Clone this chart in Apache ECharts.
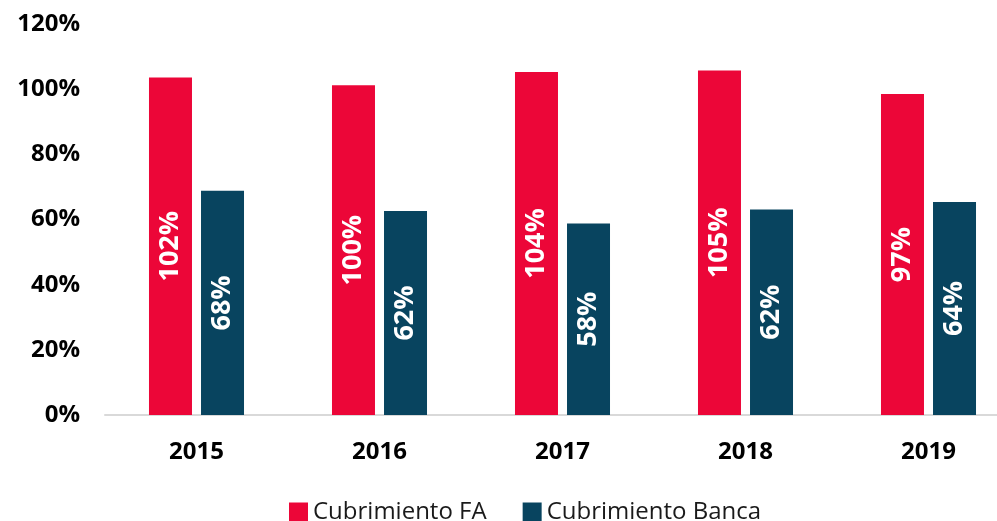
<!DOCTYPE html>
<html>
<head>
<meta charset="utf-8">
<script src="https://cdn.jsdelivr.net/npm/echarts@6/dist/echarts.min.js"></script>
<style>
  html, body { margin: 0; padding: 0; background: #fff; }
  #chart { width: 997px; height: 521px; }
</style>
</head>
<body>
<div id="chart"></div>
<script>
var years = ['2015', '2016', '2017', '2018', '2019'];
// bar heights
var fa = [103.6, 101.2, 105.3, 105.7, 98.5];
var banca = [68.8, 62.6, 58.8, 63.1, 65.4];
// labels as printed on the bars
var faLabels = ['102%', '100%', '104%', '105%', '97%'];
var bancaLabels = ['68%', '62%', '58%', '62%', '64%'];

var font = 'Open Sans';

function barLabel(texts){
	return {
		show : true,
		position : 'inside',
		rotate : 90,
		color : '#fff',
		fontFamily : font,
		fontWeight : 'bold',
		fontSize : 27,
		formatter : function(p){ return texts[p.dataIndex]; }
	};
}

var option = {
	animation : false,
	grid : { left: 105, top: 24, width: 915, height: 391, outerBoundsMode: 'none', containLabel: false },
	legend : {
		top : 495,
		left : 284,
		itemWidth : 19,
		itemHeight : 19,
		itemGap : 36,
		icon : 'rect',
		textStyle : { fontFamily: font, fontSize: 24, color: '#1a1a1a' },
		data : ['Cubrimiento FA', 'Cubrimiento Banca']
	},
	xAxis : {
		type : 'category',
		data : years,
		axisLine : { lineStyle: { color: '#d9d9d9', width: 2 } },
		axisTick : { show: false },
		axisLabel : { margin: 25, color: '#000', fontFamily: font, fontWeight: 'bold', fontSize: 24 }
	},
	yAxis : {
		type : 'value',
		min : 0,
		max : 120,
		interval : 20,
		splitLine : { show: false },
		axisLine : { show: false },
		axisLabel : { margin: 25, color: '#000', fontFamily: font, fontWeight: 'bold', fontSize: 24,
			formatter : '{value}%' }
	},
	series : [
		{
			name : 'Cubrimiento FA',
			type : 'bar',
			data : fa,
			barWidth : 43,
			barGap : '21%',
			itemStyle : { color: '#EC0638' },
			label : barLabel(faLabels)
		},
		{
			name : 'Cubrimiento Banca',
			type : 'bar',
			data : banca,
			barWidth : 43,
			itemStyle : { color: '#08445F' },
			label : barLabel(bancaLabels)
		}
	]
};

var chart = echarts.init(document.getElementById('chart'));
chart.setOption(option);
</script>
</body>
</html>
